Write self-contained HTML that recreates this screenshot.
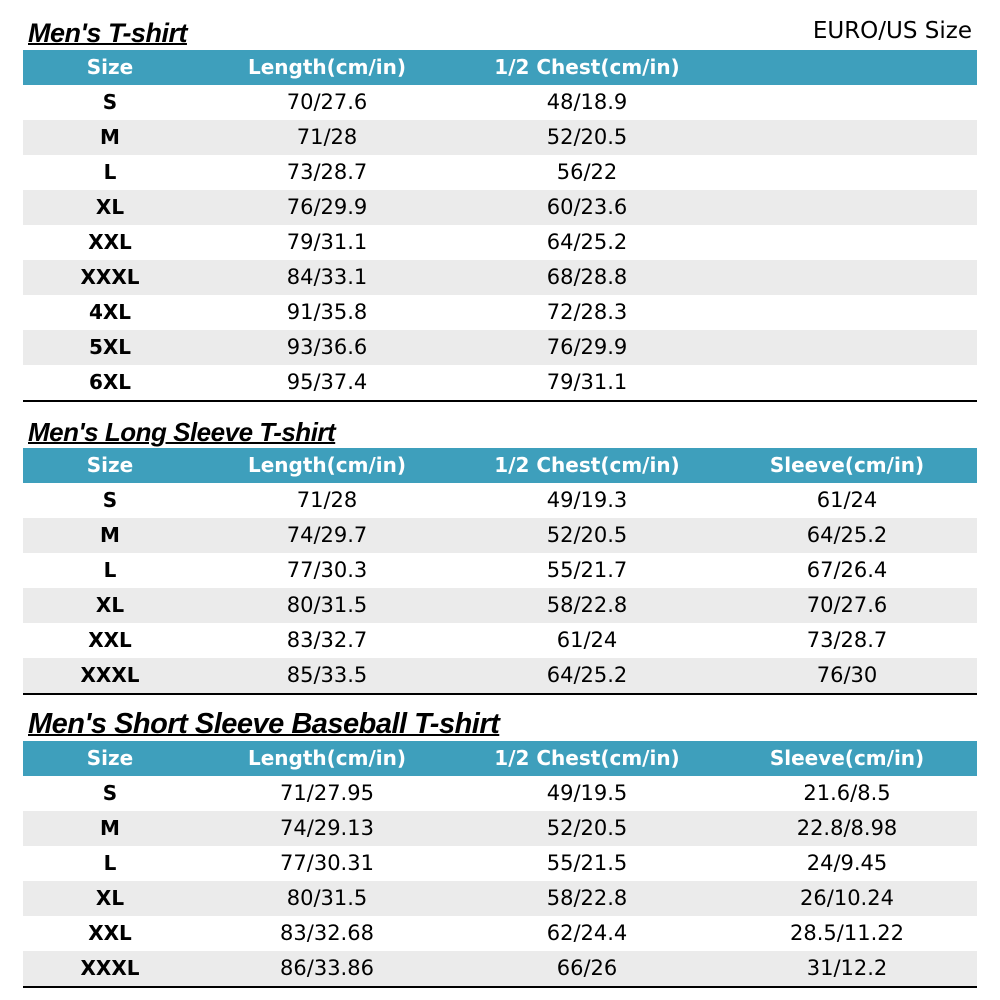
<!DOCTYPE html>
<html><head><style>
body{margin:0;width:1000px;height:1000px;background:#fff;position:relative;overflow:hidden;font-family:"DejaVu Sans","Liberation Sans",sans-serif;}
.t{position:absolute;left:28px;font-family:"Liberation Sans",sans-serif;font-weight:bold;font-style:italic;text-decoration:underline;text-decoration-thickness:2px;color:#000;letter-spacing:-0.5px;}
table{position:absolute;left:23px;width:954px;border-collapse:collapse;table-layout:fixed;}
td{height:35px;padding:0;text-align:center;font-size:21px;color:#000;line-height:35px;}
td:first-child{font-weight:bold;font-size:20px;}
tr.h td{background:#3e9fbc;color:#fff;font-weight:bold;font-size:20px;}
tr:nth-child(odd):not(.h) td{background:#ebebeb;}
table{border-bottom:2px solid #000;}
</style></head><body>
<div class="t" style="top:18px;font-size:27px">Men's T-shirt</div>
<div style="position:absolute;right:28px;top:18px;font-size:23px;font-weight:500;">EURO/US Size</div>
<table style="top:50px">
<colgroup><col style="width:174px"><col style="width:260px"><col style="width:260px"><col style="width:260px"></colgroup>
<tr class="h"><td>Size</td><td>Length(cm/in)</td><td>1/2 Chest(cm/in)</td><td></td></tr>
<tr><td>S</td><td>70/27.6</td><td>48/18.9</td><td></td></tr>
<tr><td>M</td><td>71/28</td><td>52/20.5</td><td></td></tr>
<tr><td>L</td><td>73/28.7</td><td>56/22</td><td></td></tr>
<tr><td>XL</td><td>76/29.9</td><td>60/23.6</td><td></td></tr>
<tr><td>XXL</td><td>79/31.1</td><td>64/25.2</td><td></td></tr>
<tr><td>XXXL</td><td>84/33.1</td><td>68/28.8</td><td></td></tr>
<tr><td>4XL</td><td>91/35.8</td><td>72/28.3</td><td></td></tr>
<tr><td>5XL</td><td>93/36.6</td><td>76/29.9</td><td></td></tr>
<tr><td>6XL</td><td>95/37.4</td><td>79/31.1</td><td></td></tr>
</table>
<div class="t" style="top:417px;font-size:26px">Men's Long Sleeve T-shirt</div>
<table style="top:448px">
<colgroup><col style="width:174px"><col style="width:260px"><col style="width:260px"><col style="width:260px"></colgroup>
<tr class="h"><td>Size</td><td>Length(cm/in)</td><td>1/2 Chest(cm/in)</td><td>Sleeve(cm/in)</td></tr>
<tr><td>S</td><td>71/28</td><td>49/19.3</td><td>61/24</td></tr>
<tr><td>M</td><td>74/29.7</td><td>52/20.5</td><td>64/25.2</td></tr>
<tr><td>L</td><td>77/30.3</td><td>55/21.7</td><td>67/26.4</td></tr>
<tr><td>XL</td><td>80/31.5</td><td>58/22.8</td><td>70/27.6</td></tr>
<tr><td>XXL</td><td>83/32.7</td><td>61/24</td><td>73/28.7</td></tr>
<tr><td>XXXL</td><td>85/33.5</td><td>64/25.2</td><td>76/30</td></tr>
</table>
<div class="t" style="top:708px;font-size:29px">Men's Short Sleeve Baseball T-shirt</div>
<table style="top:741px">
<colgroup><col style="width:174px"><col style="width:260px"><col style="width:260px"><col style="width:260px"></colgroup>
<tr class="h"><td>Size</td><td>Length(cm/in)</td><td>1/2 Chest(cm/in)</td><td>Sleeve(cm/in)</td></tr>
<tr><td>S</td><td>71/27.95</td><td>49/19.5</td><td>21.6/8.5</td></tr>
<tr><td>M</td><td>74/29.13</td><td>52/20.5</td><td>22.8/8.98</td></tr>
<tr><td>L</td><td>77/30.31</td><td>55/21.5</td><td>24/9.45</td></tr>
<tr><td>XL</td><td>80/31.5</td><td>58/22.8</td><td>26/10.24</td></tr>
<tr><td>XXL</td><td>83/32.68</td><td>62/24.4</td><td>28.5/11.22</td></tr>
<tr><td>XXXL</td><td>86/33.86</td><td>66/26</td><td>31/12.2</td></tr>
</table>
</body></html>
